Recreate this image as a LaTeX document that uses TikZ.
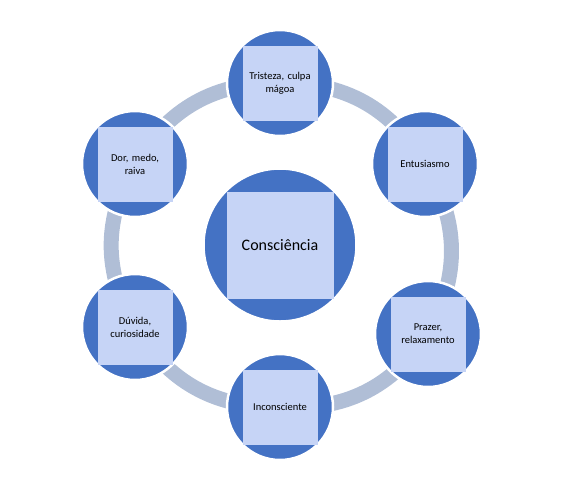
\documentclass[tikz,border=0pt]{standalone}
\usepackage{fontspec}
\setmainfont{Carlito}
\usepackage{xcolor}
\usetikzlibrary{positioning, backgrounds}

\definecolor{bubblue}{HTML}{4472C4}
\definecolor{boxblue}{HTML}{C6D4F6}
\definecolor{ringgray}{HTML}{B0BED6}

\begin{document}
\begin{tikzpicture}[
  x=1pt, y=-1pt,
  bub/.style={circle, fill=bubblue, draw=white, line width=2.5pt, minimum size=106pt, inner sep=0pt},
  hub/.style={bub, minimum size=153pt},
  lbl/.style={fill=boxblue, minimum size=75pt, inner sep=2pt, text width=71pt, align=center, font=\fontsize{10.5}{13}\selectfont},
  hublbl/.style={lbl, minimum size=107pt, text width=103pt, font=\fontsize{16}{19}\selectfont},
  ring/.style={draw=ringgray, line width=15pt}
]
  \useasboundingbox (0,0) rectangle (583,491);

  % bubbles
  \node[hub] (cons) at (280,245) {};
  \node[bub] (trist) at (280,83) {};
  \node[bub] (entus) at (425,164) {};
  \node[bub] (praz) at (428,334) {};
  \node[bub] (incon) at (280,407) {};
  \node[bub] (duv) at (135,327) {};
  \node[bub] (dor) at (135,164) {};

  % labels
  \node[hublbl] (consl) at (cons) {Consciência};
  \node[lbl] (tristl) at (trist) {Tristeza, culpa\\mágoa};
  \node[lbl] (entusl) at (entus) {Entusiasmo};
  \node[lbl] (prazl) at (praz) {Prazer,\\relaxamento};
  \node[lbl] (inconl) at (incon) {Inconsciente};
  \node[lbl] (duvl) at (duv) {Dúvida,\\curiosidade};
  \node[lbl] (dorl) at (dor) {Dor, medo,\\raiva};

  % ring behind the bubbles
  \begin{scope}[on background layer]
    \draw[ring] (trist.center) to[bend left=30] (entus.center);
    \draw[ring] (entus.center) to[bend left=30] (praz.center);
    \draw[ring] (praz.center) to[bend left=30] (incon.center);
    \draw[ring] (incon.center) to[bend left=30] (duv.center);
    \draw[ring] (duv.center) to[bend left=30] (dor.center);
    \draw[ring] (dor.center) to[bend left=30] (trist.center);
  \end{scope}
\end{tikzpicture}
\end{document}
